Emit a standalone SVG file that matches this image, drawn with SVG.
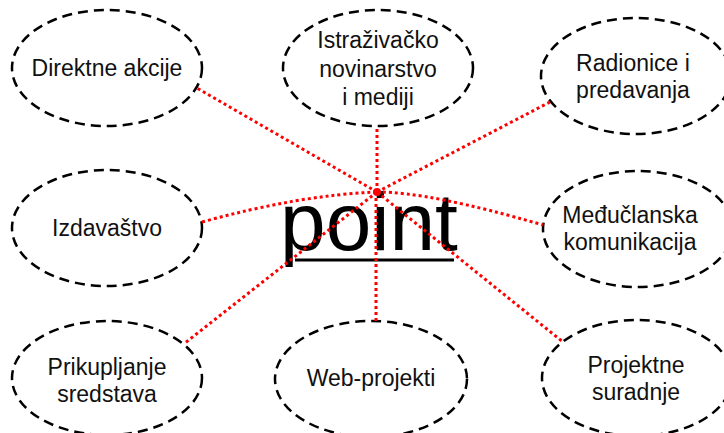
<svg xmlns="http://www.w3.org/2000/svg" width="724" height="433" viewBox="0 0 724 433">
<style>
.node ellipse{fill:#fff;stroke:#000;stroke-width:2.5;stroke-dasharray:10 6}
.node text{font-family:"Liberation Sans",Arial,sans-serif;font-size:23px;fill:#111;text-anchor:middle}
.conn path{fill:none;stroke:#f00;stroke-width:3;stroke-dasharray:3 3}
.big{font-family:"Liberation Sans",Arial,sans-serif;font-size:82px;fill:#000;text-anchor:middle}
</style>
<rect width="724" height="433" fill="#fff"/>
<g id="center">
<text class="big" x="369" y="250">point</text>
<line x1="295" y1="260" x2="454" y2="260" stroke="#000" stroke-width="3"/>
</g>
<g id="n1" class="node"><ellipse cx="107" cy="68" rx="95" ry="58"/><text x="107" y="76">Direktne akcije</text></g>
<g id="n2" class="node"><ellipse cx="378" cy="68" rx="95" ry="58"/><text x="378" y="48">Istraživačko</text><text x="378" y="77">novinarstvo</text><text x="378" y="105">i mediji</text></g>
<g id="n3" class="node"><ellipse cx="636" cy="76" rx="95" ry="58"/><text x="633" y="71">Radionice i</text><text x="633" y="98">predavanja</text></g>
<g id="n4" class="node"><ellipse cx="107" cy="228" rx="95" ry="58"/><text x="107" y="236">Izdavaštvo</text></g>
<g id="n5" class="node"><ellipse cx="638" cy="229" rx="95" ry="58"/><text x="630" y="223">Međučlanska</text><text x="630" y="250">komunikacija</text></g>
<g id="n6" class="node"><ellipse cx="107" cy="378" rx="95" ry="57"/><text x="107" y="375">Prikupljanje</text><text x="107" y="402">sredstava</text></g>
<g id="n7" class="node"><ellipse cx="371" cy="379" rx="96" ry="58"/><text x="371" y="386">Web-projekti</text></g>
<g id="n8" class="node"><ellipse cx="637" cy="378" rx="95" ry="58"/><text x="636" y="373">Projektne</text><text x="636" y="400">suradnje</text></g>
<g id="connectors" class="conn">
<path d="M377,192 L195,87"/>
<path d="M377,192 L377,127"/>
<path d="M377,192 L550,102"/>
<path d="M202,222 Q300,195 377,192"/>
<path d="M377,192 Q430,192 543,225"/>
<path d="M377,192 L185,343"/>
<path d="M376,192 L376,321"/>
<path d="M377,192 L563,342"/>
<circle cx="377" cy="192" r="4" fill="#f00"/>
</g>
</svg>
